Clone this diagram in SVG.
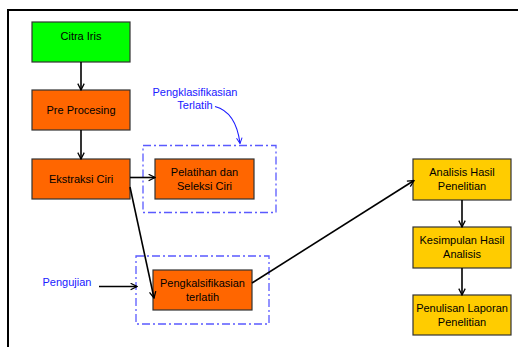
<svg xmlns="http://www.w3.org/2000/svg" width="518" height="347" viewBox="0 0 518 347">
<defs>
<marker id="arr" viewBox="0 0 10 10" refX="9" refY="5" markerWidth="8" markerHeight="8" markerUnits="userSpaceOnUse" orient="auto">
<path d="M1,1 L9,5 L1,9" fill="none" stroke="#000" stroke-width="1.6"/>
</marker>
<marker id="arrb" viewBox="0 0 10 10" refX="9" refY="5" markerWidth="7" markerHeight="7" markerUnits="userSpaceOnUse" orient="auto">
<path d="M1,1 L9,5 L1,9" fill="none" stroke="#1a1aff" stroke-width="1.4"/>
</marker>
</defs>
<style>
.box{stroke:#333;stroke-width:1.2}
.g{fill:#00ff00}.o{fill:#ff6600}.y{fill:#ffcc00}
.t{font-family:"Liberation Sans",Arial,sans-serif;font-size:11px;fill:#000;text-anchor:middle}
.b{font-family:"Liberation Sans",Arial,sans-serif;font-size:11px;fill:#2020ff;text-anchor:middle}
.dd{fill:none;stroke:#5a5aff;stroke-width:1.3;stroke-dasharray:8 3 2 3}
.c{fill:none;stroke:#000;stroke-width:1.6;marker-end:url(#arr)}
</style>
<rect width="518" height="347" fill="#fff"/>
<path d="M8,347 V10 H518" fill="none" stroke="#000" stroke-width="2"/>
<rect class="dd" x="143" y="145.5" width="133" height="67"/>
<rect class="dd" x="136" y="256" width="133" height="68"/>
<g id="citra"><rect class="box g" x="32" y="22" width="98" height="40"/><text class="t" x="81" y="39.5">Citra Iris</text></g>
<g id="pre"><rect class="box o" x="32" y="90" width="98" height="40"/><text class="t" x="81" y="113.5">Pre Procesing</text></g>
<g id="ekstraksi"><rect class="box o" x="32" y="159" width="98" height="40"/><text class="t" x="81" y="182.5">Ekstraksi Ciri</text></g>
<g id="pelatihan"><rect class="box o" x="155" y="159" width="99" height="40"/><text class="t" x="204.5" y="176">Pelatihan dan</text><text class="t" x="204.5" y="190">Seleksi Ciri</text></g>
<g id="pengkalsifikasian"><rect class="box o" x="153" y="270" width="99" height="40"/><text class="t" x="202.5" y="287">Pengkalsifikasian</text><text class="t" x="202.5" y="301">terlatih</text></g>
<g id="analisis"><rect class="box y" x="413" y="159" width="98" height="41"/><text class="t" x="462" y="176">Analisis Hasil</text><text class="t" x="462" y="190">Penelitian</text></g>
<g id="kesimpulan"><rect class="box y" x="413" y="227" width="98" height="41"/><text class="t" x="462" y="244">Kesimpulan Hasil</text><text class="t" x="462" y="258">Analisis</text></g>
<g id="penulisan"><rect class="box y" x="413" y="295" width="98" height="40"/><text class="t" x="462" y="312">Penulisan Laporan</text><text class="t" x="462" y="326">Penelitian</text></g>
<g id="label-klasifikasi"><text class="b" x="195" y="96">Pengklasifikasian</text><text class="b" x="195" y="108.5">Terlatih</text></g>
<g id="label-pengujian"><text class="b" x="67" y="286">Pengujian</text></g>
<g id="connectors">
<path class="c" d="M81,62 V90"/>
<path class="c" d="M81,130 V159"/>
<path class="c" d="M130,177.5 H155"/>
<path class="c" d="M130,187 L154,298"/>
<path class="c" d="M99,286.5 H137"/>
<path class="c" d="M252,283 L414,180.5"/>
<path class="c" d="M462,200 V227"/>
<path class="c" d="M462,268 V295"/>
<path d="M215,106.5 Q236,112 240,143.5" fill="none" stroke="#1a1aff" stroke-width="1.1" marker-end="url(#arrb)"/>
</g>
</svg>
